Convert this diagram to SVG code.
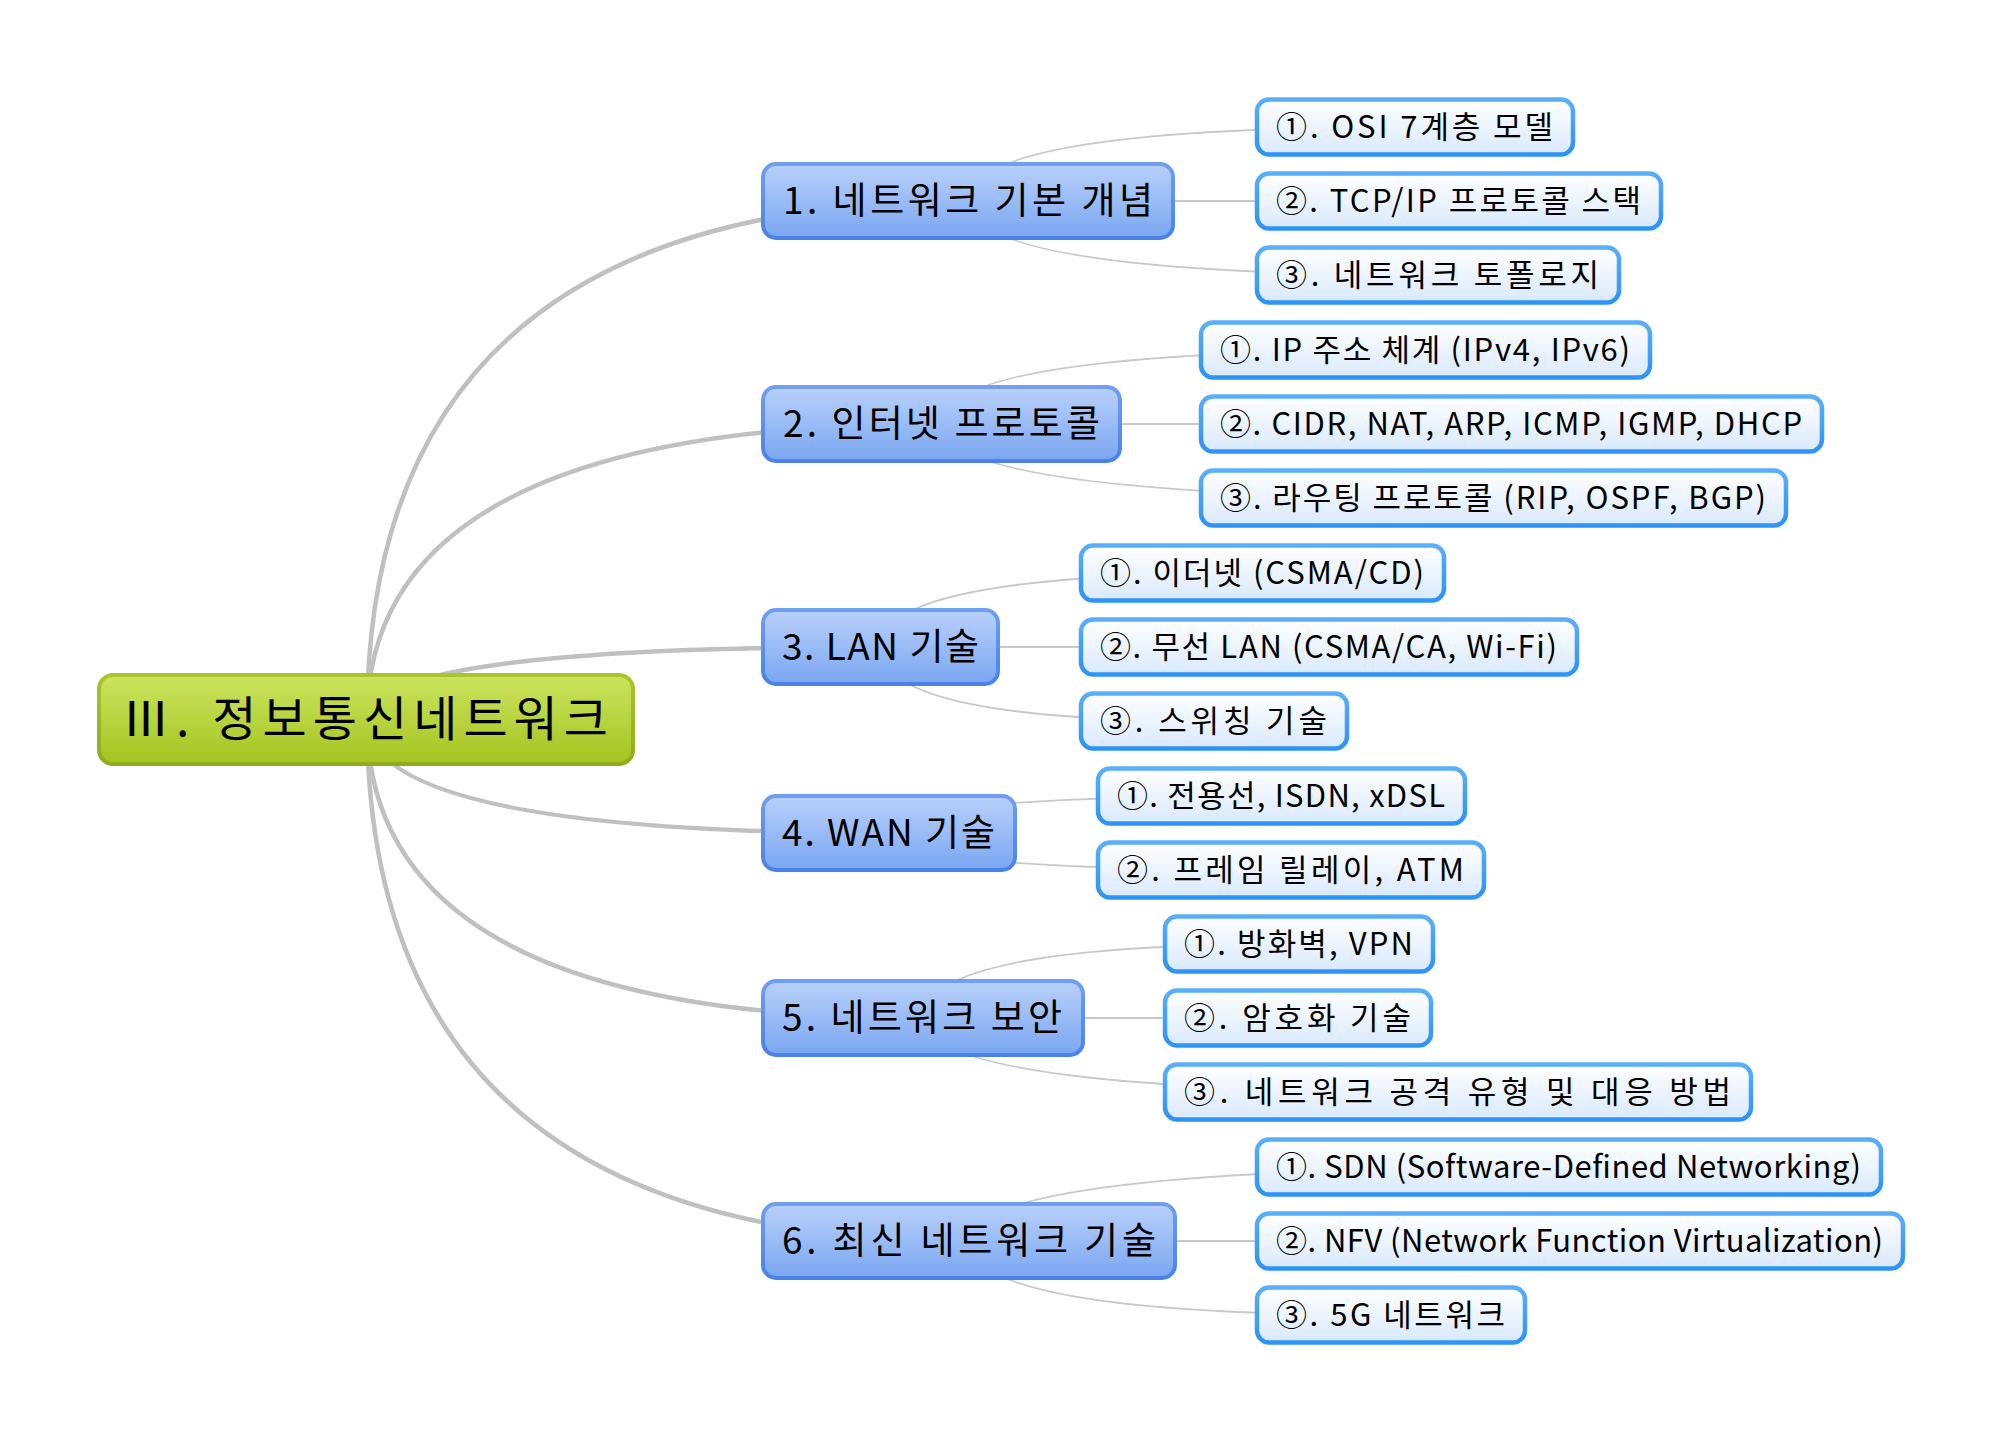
<svg xmlns="http://www.w3.org/2000/svg" width="2000" height="1439" viewBox="0 0 2000 1439">
<defs>
<linearGradient id="gRoot" x1="0" y1="0" x2="0" y2="1"><stop offset="0" stop-color="#cce45e"/><stop offset="1" stop-color="#a5c320"/></linearGradient>
<linearGradient id="gL1" x1="0" y1="0" x2="0" y2="1"><stop offset="0" stop-color="#b9d1fa"/><stop offset="1" stop-color="#7aa6f1"/></linearGradient>
<linearGradient id="gL2" x1="0" y1="0" x2="0" y2="1"><stop offset="0" stop-color="#ffffff"/><stop offset="1" stop-color="#d9e9fc"/></linearGradient>
<linearGradient id="gS1" x1="0" y1="0" x2="0" y2="1"><stop offset="0" stop-color="#6f9ef2"/><stop offset="1" stop-color="#4a82ea"/></linearGradient>
<linearGradient id="gS2" x1="0" y1="0" x2="0" y2="1"><stop offset="0" stop-color="#5aaefa"/><stop offset="1" stop-color="#2d93f5"/></linearGradient>
<linearGradient id="gS0" x1="0" y1="0" x2="0" y2="1"><stop offset="0" stop-color="#a8c62a"/><stop offset="1" stop-color="#8fac1c"/></linearGradient>
<style>
.t{font-family:"Noto Sans CJK KR","Malgun Gothic","Noto Sans",sans-serif;fill:#000}
.rt{font-size:48px}
.t1{font-size:37px}
.t2{font-size:31px}
.root{fill:url(#gRoot);stroke:url(#gS0);stroke-width:4}
.l1{fill:url(#gL1);stroke:url(#gS1);stroke-width:4}
.l2{fill:url(#gL2);stroke:url(#gS2);stroke-width:4.5}
.c0{fill:none;stroke:#c0c0c0;stroke-width:4.5}
.c1{fill:none;stroke:#c8c8c8;stroke-width:2}
</style>
</defs>
<rect width="2000" height="1439" fill="#ffffff"/>
<g id="connectors">
<path class="c0" d="M367,719 Q367,201 968,201"/>
<path class="c0" d="M367,719 Q367,424 941,424"/>
<path class="c0" d="M367,719 Q367,647 880,647"/>
<path class="c0" d="M367,719 Q367,833 889,833"/>
<path class="c0" d="M367,719 Q367,1018 923,1018"/>
<path class="c0" d="M367,719 Q367,1241 969,1241"/>
<path class="c1" d="M968,201 Q968,127 1415,127"/>
<path class="c1" d="M968,201 L1459,201"/>
<path class="c1" d="M968,201 Q968,275 1438,275"/>
<path class="c1" d="M941,424 Q941,350 1425,350"/>
<path class="c1" d="M941,424 L1511,424"/>
<path class="c1" d="M941,424 Q941,498 1493,498"/>
<path class="c1" d="M880,647 Q880,573 1262,573"/>
<path class="c1" d="M880,647 L1329,647"/>
<path class="c1" d="M880,647 Q880,721 1214,721"/>
<path class="c1" d="M889,833 Q889,796 1281,796"/>
<path class="c1" d="M889,833 Q889,870 1291,870"/>
<path class="c1" d="M923,1018 Q923,944 1299,944"/>
<path class="c1" d="M923,1018 L1298,1018"/>
<path class="c1" d="M923,1018 Q923,1092 1458,1092"/>
<path class="c1" d="M969,1241 Q969,1167 1569,1167"/>
<path class="c1" d="M969,1241 L1580,1241"/>
<path class="c1" d="M969,1241 Q969,1315 1391,1315"/>
</g>
<g id="root"><rect class="root" x="99" y="675" width="534" height="89" rx="14"/><text class="t rt" x="122" y="736" textLength="486" lengthAdjust="spacing">Ⅲ. 정보통신네트워크</text></g>
<g id="n1"><rect class="l1" x="763" y="164" width="410" height="74" rx="13"/><text class="t t1" x="783" y="214" textLength="370" lengthAdjust="spacing">1. 네트워크 기본 개념</text></g>
<g id="n2"><rect class="l1" x="763" y="387" width="357" height="74" rx="13"/><text class="t t1" x="783" y="437" textLength="317" lengthAdjust="spacing">2. 인터넷 프로토콜</text></g>
<g id="n3"><rect class="l1" x="763" y="610" width="235" height="74" rx="13"/><text class="t t1" x="782" y="660" textLength="197" lengthAdjust="spacing">3. LAN 기술</text></g>
<g id="n4"><rect class="l1" x="763" y="796" width="252" height="74" rx="13"/><text class="t t1" x="782" y="846" textLength="213" lengthAdjust="spacing">4. WAN 기술</text></g>
<g id="n5"><rect class="l1" x="763" y="981" width="320" height="74" rx="13"/><text class="t t1" x="782" y="1031" textLength="280" lengthAdjust="spacing">5. 네트워크 보안</text></g>
<g id="n6"><rect class="l1" x="763" y="1204" width="412" height="74" rx="13"/><text class="t t1" x="782" y="1254" textLength="374" lengthAdjust="spacing">6. 최신 네트워크 기술</text></g>
<g id="n1-1"><rect class="l2" x="1257" y="99.5" width="316" height="55" rx="12"/><text class="t t2" x="1276" y="138" textLength="277" lengthAdjust="spacing">①. OSI 7계층 모델</text></g>
<g id="n1-2"><rect class="l2" x="1257" y="173.5" width="404" height="55" rx="12"/><text class="t t2" x="1276" y="212" textLength="365" lengthAdjust="spacing">②. TCP/IP 프로토콜 스택</text></g>
<g id="n1-3"><rect class="l2" x="1257" y="247.5" width="362" height="55" rx="12"/><text class="t t2" x="1276" y="286" textLength="323" lengthAdjust="spacing">③. 네트워크 토폴로지</text></g>
<g id="n2-1"><rect class="l2" x="1201" y="322.5" width="449" height="55" rx="12"/><text class="t t2" x="1220" y="361" textLength="410" lengthAdjust="spacing">①. IP 주소 체계 (IPv4, IPv6)</text></g>
<g id="n2-2"><rect class="l2" x="1201" y="396.5" width="621" height="55" rx="12"/><text class="t t2" x="1220" y="435" textLength="582" lengthAdjust="spacing">②. CIDR, NAT, ARP, ICMP, IGMP, DHCP</text></g>
<g id="n2-3"><rect class="l2" x="1201" y="470.5" width="585" height="55" rx="12"/><text class="t t2" x="1220" y="509" textLength="546" lengthAdjust="spacing">③. 라우팅 프로토콜 (RIP, OSPF, BGP)</text></g>
<g id="n3-1"><rect class="l2" x="1081" y="545.5" width="363" height="55" rx="12"/><text class="t t2" x="1100" y="584" textLength="324" lengthAdjust="spacing">①. 이더넷 (CSMA/CD)</text></g>
<g id="n3-2"><rect class="l2" x="1081" y="619.5" width="496" height="55" rx="12"/><text class="t t2" x="1100" y="658" textLength="457" lengthAdjust="spacing">②. 무선 LAN (CSMA/CA, Wi-Fi)</text></g>
<g id="n3-3"><rect class="l2" x="1081" y="693.5" width="266" height="55" rx="12"/><text class="t t2" x="1100" y="732" textLength="227" lengthAdjust="spacing">③. 스위칭 기술</text></g>
<g id="n4-1"><rect class="l2" x="1098" y="768.5" width="367" height="55" rx="12"/><text class="t t2" x="1117" y="807" textLength="328" lengthAdjust="spacing">①. 전용선, ISDN, xDSL</text></g>
<g id="n4-2"><rect class="l2" x="1098" y="842.5" width="386" height="55" rx="12"/><text class="t t2" x="1117" y="881" textLength="347" lengthAdjust="spacing">②. 프레임 릴레이, ATM</text></g>
<g id="n5-1"><rect class="l2" x="1165" y="916.5" width="268" height="55" rx="12"/><text class="t t2" x="1184" y="955" textLength="229" lengthAdjust="spacing">①. 방화벽, VPN</text></g>
<g id="n5-2"><rect class="l2" x="1165" y="990.5" width="266" height="55" rx="12"/><text class="t t2" x="1184" y="1029" textLength="227" lengthAdjust="spacing">②. 암호화 기술</text></g>
<g id="n5-3"><rect class="l2" x="1165" y="1064.5" width="586" height="55" rx="12"/><text class="t t2" x="1184" y="1103" textLength="547" lengthAdjust="spacing">③. 네트워크 공격 유형 및 대응 방법</text></g>
<g id="n6-1"><rect class="l2" x="1257" y="1139.5" width="624" height="55" rx="12"/><text class="t t2" x="1276" y="1178" textLength="585" lengthAdjust="spacing">①. SDN (Software-Defined Networking)</text></g>
<g id="n6-2"><rect class="l2" x="1257" y="1213.5" width="646" height="55" rx="12"/><text class="t t2" x="1276" y="1252" textLength="607" lengthAdjust="spacing">②. NFV (Network Function Virtualization)</text></g>
<g id="n6-3"><rect class="l2" x="1257" y="1287.5" width="268" height="55" rx="12"/><text class="t t2" x="1276" y="1326" textLength="229" lengthAdjust="spacing">③. 5G 네트워크</text></g>
</svg>
